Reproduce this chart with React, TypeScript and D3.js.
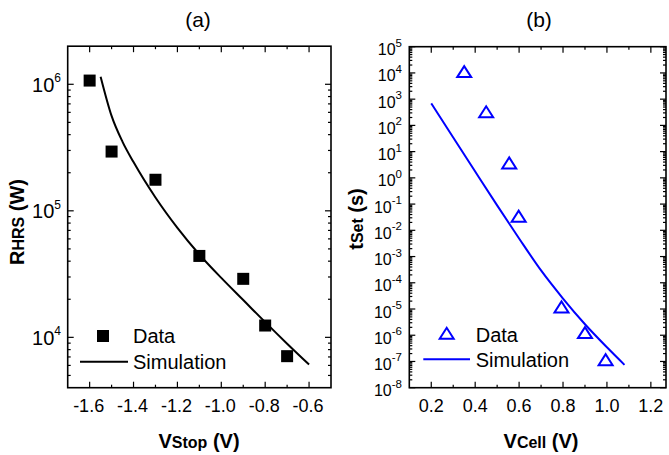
import React from "react";
import * as d3 from "d3";

// ---------- Panel (a) data ----------
const aDataV = [-1.6, -1.5, -1.3, -1.1, -0.9, -0.8, -0.7];
const aDataR = [1.07e6, 2.94e5, 1.76e5, 4.4e4, 2.9e4, 1.24e4, 7.1e3];
const aSimV = [-1.55, -1.5, -1.45, -1.4, -1.3, -1.2, -1.1, -1.0, -0.9, -0.8, -0.7, -0.6];
const aSimLogR = [6.06, 5.75, 5.545, 5.385, 5.105, 4.865, 4.655, 4.47, 4.295, 4.12, 3.95, 3.785];
const aXTicks = [-1.6, -1.4, -1.2, -1.0, -0.8, -0.6];
const aXTickLabels = ["-1.6", "-1.4", "-1.2", "-1.0", "-0.8", "-0.6"];
const aYDecades = [4, 5, 6];

// ---------- Panel (b) data ----------
const bDataV = [0.35, 0.45, 0.555, 0.598, 0.793, 0.9, 0.994];
const bDataLogT = [4.05, 2.52, 0.57, -1.46, -4.92, -5.9, -6.93];
const bSimV = [0.2, 0.3, 0.4, 0.5, 0.6, 0.7, 0.8, 0.9, 1.0, 1.08];
const bSimLogT = [2.84, 1.54, 0.24, -1.05, -2.31, -3.53, -4.6, -5.58, -6.46, -7.13];
const bXTicks = [0.2, 0.4, 0.6, 0.8, 1.0, 1.2];
const bXTickLabels = ["0.2", "0.4", "0.6", "0.8", "1.0", "1.2"];
const bYDecades = [-8, -7, -6, -5, -4, -3, -2, -1, 0, 1, 2, 3, 4, 5];

const FONT = "'Liberation Sans', Arial, sans-serif";
const BLUE = "#0000ff";

type Frame = { x0: number; x1: number; y0: number; y1: number };

function logMinor(lo: number, hi: number) {
  const out: number[] = [];
  for (let e = Math.floor(Math.log10(lo)) - 1; e <= Math.ceil(Math.log10(hi)); e++) {
    for (let k = 2; k <= 9; k++) {
      const v = k * Math.pow(10, e);
      if (v > lo * 1.0001 && v < hi / 1.0001) out.push(v);
    }
  }
  return out;
}

function linMinor(lo: number, hi: number, step: number, majors: number[]) {
  const out: number[] = [];
  const n = Math.round((hi - lo) / step);
  for (let i = 1; i < n; i++) {
    const v = +(lo + i * step).toFixed(4);
    if (!majors.some((m) => Math.abs(m - v) < 1e-6)) out.push(v);
  }
  return out;
}

function FrameTicks({
  f,
  xs,
  ys,
  xMajor,
  xMinor,
  yMajor,
  yMinor,
  color,
}: {
  f: Frame;
  xs: (v: number) => number;
  ys: (v: number) => number;
  xMajor: number[];
  xMinor: number[];
  yMajor: number[];
  yMinor: number[];
  color: string;
}) {
  const M = 6;
  const m = 3;
  const lines: any[] = [];
  let k = 0;
  xMajor.forEach((v) => {
    const x = xs(v);
    lines.push(<line key={k++} x1={x} x2={x} y1={f.y1} y2={f.y1 - M} />);
    lines.push(<line key={k++} x1={x} x2={x} y1={f.y0} y2={f.y0 + M} />);
  });
  xMinor.forEach((v) => {
    const x = xs(v);
    lines.push(<line key={k++} x1={x} x2={x} y1={f.y1} y2={f.y1 - m} />);
    lines.push(<line key={k++} x1={x} x2={x} y1={f.y0} y2={f.y0 + m} />);
  });
  yMajor.forEach((v) => {
    const y = ys(v);
    lines.push(<line key={k++} x1={f.x0} x2={f.x0 + M} y1={y} y2={y} />);
    lines.push(<line key={k++} x1={f.x1} x2={f.x1 - M} y1={y} y2={y} />);
  });
  yMinor.forEach((v) => {
    const y = ys(v);
    lines.push(<line key={k++} x1={f.x0} x2={f.x0 + m} y1={y} y2={y} />);
    lines.push(<line key={k++} x1={f.x1} x2={f.x1 - m} y1={y} y2={y} />);
  });
  return (
    <g stroke={color} strokeWidth={1.2}>
      {lines}
      <rect x={f.x0} y={f.y0} width={f.x1 - f.x0} height={f.y1 - f.y0} fill="none" strokeWidth={1.6} />
    </g>
  );
}

export default function App() {
  // ---------- Panel (a) ----------
  const fa: Frame = { x0: 67.7, x1: 331, y0: 46.2, y1: 387.7 };
  const xa = d3.scaleLinear().domain([-1.7, -0.5]).range([fa.x0, fa.x1]);
  const ya = d3.scaleLog().domain([4000, 2e6]).range([fa.y1, fa.y0]);
  const aLine = d3
    .line<number>()
    .x((_, i) => xa(aSimV[i]))
    .y((d) => ya(Math.pow(10, d)))
    .curve(d3.curveMonotoneX);
  const aXMinor = linMinor(-1.7, -0.5, 0.1, aXTicks);
  const aYMinor = logMinor(4000, 2e6);

  // ---------- Panel (b) ----------
  const fb: Frame = { x0: 409.3, x1: 666, y0: 46.7, y1: 387.7 };
  const xb = d3.scaleLinear().domain([0.1, 0.1 + (666 - 409.3) / 219.6]).range([fb.x0, fb.x1]);
  const yb = d3.scaleLog().domain([1e-8, 1e5]).range([fb.y1, fb.y0]);
  const bLine = d3
    .line<number>()
    .x((_, i) => xb(bSimV[i]))
    .y((d) => yb(Math.pow(10, d)))
    .curve(d3.curveMonotoneX);
  const bXMinor = linMinor(0.1, 1.3, 0.1, bXTicks).filter((v) => xb(v) < fb.x1 - 1);
  const bYMinor = logMinor(1e-8, 1e5);

  const tri = (cx: number, cy: number) => {
    const w = 14,
      h = 11;
    return `M${cx - w / 2},${cy + h / 2}L${cx + w / 2},${cy + h / 2}L${cx},${cy - h / 2}Z`;
  };

  return (
    <svg
      width={669}
      height={455}
      style={{ position: "absolute", left: 0, top: 0, background: "#fff" }}
      fontFamily={FONT}
    >
      {/* ===== Panel (a) ===== */}
      <text x={198} y={27} fontSize={21} textAnchor="middle" fill="#000">
        (a)
      </text>
      <FrameTicks
        f={fa}
        xs={xa}
        ys={(v) => ya(v)}
        xMajor={aXTicks}
        xMinor={aXMinor}
        yMajor={aYDecades.map((e) => Math.pow(10, e))}
        yMinor={aYMinor}
        color="#000"
      />
      {aXTicks.map((v, i) => (
        <text key={i} x={xa(v) - 1} y={412} fontSize={18} textAnchor="middle" fill="#000">
          {aXTickLabels[i]}
        </text>
      ))}
      {aYDecades.map((e) => (
        <text key={e} x={61} y={ya(Math.pow(10, e)) + 7.5} fontSize={20} textAnchor="end" fill="#000">
          10
          <tspan fontSize={12} dy={-9.5}>
            {e}
          </tspan>
        </text>
      ))}
      <path d={aLine(aSimLogR) || ""} fill="none" stroke="#000" strokeWidth={2} />
      {aDataV.map((v, i) => (
        <rect key={i} x={xa(v) - 6} y={ya(aDataR[i]) - 6} width={12} height={12} fill="#000" />
      ))}
      {/* legend (a) */}
      <rect x={97} y={330} width={12} height={12} fill="#000" />
      <text x={133} y={343} fontSize={20} fill="#000">
        Data
      </text>
      <line x1={80} x2={128} y1={361.7} y2={361.7} stroke="#000" strokeWidth={2} />
      <text x={133} y={368.5} fontSize={20} fill="#000">
        Simulation
      </text>
      {/* axis titles (a) */}
      <text x={199} y={448} fontSize={20} fontWeight="bold" textAnchor="middle" fill="#000">
        V<tspan fontSize={16}>Stop</tspan> (V)
      </text>
      <text
        transform="translate(24,222) rotate(-90)"
        fontSize={20}
        fontWeight="bold"
        textAnchor="middle"
        fill="#000"
      >
        R<tspan fontSize={16}>HRS</tspan> (W)
      </text>

      {/* ===== Panel (b) ===== */}
      <text x={539} y={27} fontSize={21} textAnchor="middle" fill="#000">
        (b)
      </text>
      <FrameTicks
        f={fb}
        xs={xb}
        ys={(v) => yb(v)}
        xMajor={bXTicks}
        xMinor={bXMinor}
        yMajor={bYDecades.map((e) => Math.pow(10, e))}
        yMinor={bYMinor}
        color="#000"
      />
      {bXTicks.map((v, i) => (
        <text key={i} x={xb(v)} y={412} fontSize={18} textAnchor="middle" fill="#000">
          {bXTickLabels[i]}
        </text>
      ))}
      {bYDecades.map((e) => (
        <text key={e} x={402} y={yb(Math.pow(10, e)) + 8.5} fontSize={16} textAnchor="end" fill="#000">
          10
          <tspan fontSize={11.5} dy={-8.5}>
            {e < 0 ? "-" + -e : String(e)}
          </tspan>
        </text>
      ))}
      <path d={bLine(bSimLogT) || ""} fill="none" stroke={BLUE} strokeWidth={2} />
      {bDataV.map((v, i) => (
        <path
          key={i}
          d={tri(xb(v), yb(Math.pow(10, bDataLogT[i])))}
          fill="none"
          stroke={BLUE}
          strokeWidth={2}
        />
      ))}
      {/* legend (b) */}
      <path d={tri(446.7, 333.3)} fill="none" stroke={BLUE} strokeWidth={2} />
      <text x={475.7} y={342} fontSize={20} fill="#000">
        Data
      </text>
      <line x1={423.3} x2={470} y1={359.3} y2={359.3} stroke={BLUE} strokeWidth={2} />
      <text x={475.7} y={367} fontSize={20} fill="#000">
        Simulation
      </text>
      {/* axis titles (b) */}
      <text x={541} y={448} fontSize={20} fontWeight="bold" textAnchor="middle" fill="#000">
        V<tspan fontSize={16}>Cell</tspan> (V)
      </text>
      <text
        transform="translate(363,219) rotate(-90)"
        fontSize={20}
        fontWeight="bold"
        textAnchor="middle"
        fill="#000"
      >
        t<tspan fontSize={16}>Set</tspan> (s)
      </text>
    </svg>
  );
}
